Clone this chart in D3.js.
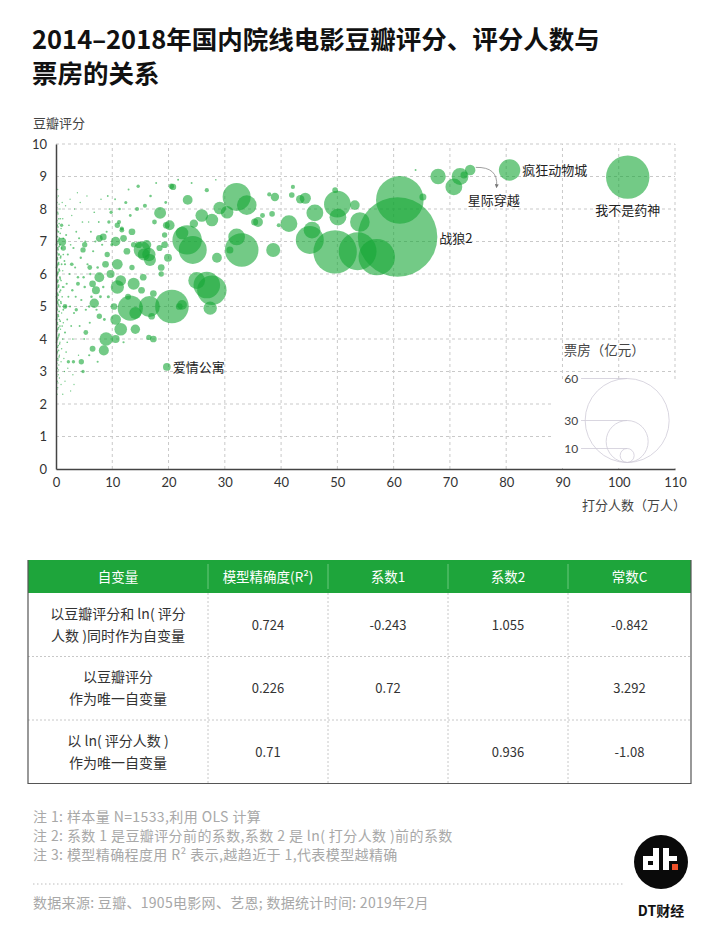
<!DOCTYPE html>
<html><head><meta charset="utf-8">
<script src="https://cdn.jsdelivr.net/npm/d3@7"></script>
<style>
body{margin:0;background:#fff;}
svg{display:block;font-family:"Noto Sans CJK SC","Noto Sans",sans-serif;}
</style>
</head><body>
<svg id="c" width="720" height="930"></svg>
<script>
// ---------------- DATA ----------------
const titleLines = ["2014–2018年国内院线电影豆瓣评分、评分人数与", "票房的关系"];
const yAxisTitle = "豆瓣评分";
const xAxisTitle = "打分人数（万人）";
const xTicks = [0,10,20,30,40,50,60,70,80,90,100,110];
const yTicks = [0,1,2,3,4,5,6,7,8,9,10];
const legendTitle = "票房（亿元）";
const legendValues = [60,30,10];

// labelled films: [name, 打分人数(万), 豆瓣评分, 票房(亿)]
const namedFilms = [
  ["我不是药神",101.6,8.98,31],
  ["疯狂动物城",80.6,9.2,15.3],
  ["战狼2",60.7,7.14,56.8],
  ["星际穿越",73.6,9.2,7.5],
  ["爱情公寓",19.7,3.14,5.5]
];

// larger bubbles: [打分人数(万), 豆瓣评分, 票房(亿)]
const bigFilms = [
  [61.1,8.28,34],[57.0,6.52,26],[53.6,6.7,27],[49.6,6.68,31],[50.0,8.15,19],
  [50.1,7.75,12],[54.0,7.6,14],[53.1,8.12,7],[49.6,8.58,4],[46.0,7.88,12],
  [45.5,7.35,12],[45.1,7.05,20],[41.4,7.55,12],[44.3,8.33,8],[43.4,8.3,6],
  [41.9,8.43,4],[42.1,8.68,3],[38.9,8.37,6],[38.6,6.74,10],[65.2,8.37,5],
  [67.9,9.0,11],[70.7,8.68,12],[71.8,9.0,12],[72.5,9.05,5],[63.9,9.2,1.4],
  [33.0,6.74,24],[32.1,8.37,20],[33.9,8.12,14],[32.1,7.14,12],[30.9,6.74,5],
  [29.1,8.03,9],[27.7,7.66,9],[25.9,7.8,9],[26.8,8.58,3],[28.6,6.5,7],
  [23.3,7.05,21],[24.3,6.74,20],[22.4,7.26,9],[23.4,8.28,7],[20.8,8.68,4.5],
  [26.8,5.66,19],[27.7,5.5,21],[27.4,4.95,9.5],[25.0,5.8,12],[35.9,7.6,7],
  [38.4,7.85,4],[35.3,7.6,5],[36.7,7.8,3.5],[37.9,8.45,3],[39.6,7.5,3],
  [20.6,5.0,24],[16.6,5.0,15],[13.2,4.95,18],[22.4,5.05,7],[18.5,7.88,8.5],
  [20.2,7.5,7],[15.3,6.74,12],[16.7,6.43,8.5],[30.4,7.9,9],[24.5,7.55,6]
];

// medium bubbles: [打分人数(万), 豆瓣评分, 票房(亿)]
const midFilms = [
  [1.1,6.99,5.7],[1.3,6.8,3.8],[1.6,5.0,3.4],[1.0,7.5,2.4],[5.1,6.9,3.8],
  [6.5,5.7,4.8],[7.1,5.5,5.7],[6.8,5.1,6.7],[7.7,4.7,3.8],[6.5,3.7,4.2],
  [4.5,3.3,3.8],[4.8,3.0,2.4],[3.1,3.3,2.4],[3.6,4.9,2.4],[8.5,3.65,7.2],
  [8.9,4.0,9.5],[7.7,5.9,7],[7.7,7.1,4.8],[9.1,6.6,3.8],[8.8,6.3,4.8],
  [9.4,7.6,2.4],[11.2,7.6,2.9],[10.9,7.5,3.8],[10.6,7.0,6.7],[10.9,6.3,7.6],
  [9.7,6.0,5.7],[10.9,5.6,9.5],[11.5,5.8,7.6],[10.3,5.0,4.8],[10.6,4.6,7.6],
  [11.5,4.3,9],[10.6,4.0,5.7],[11.7,7.4,2.9],[12.0,7.1,4.8],[12.6,6.7,4.8],
  [13.8,5.7,8.6],[14.1,4.3,6.7],[14.1,4.8,8.6],[13.5,6.2,3.8],[13.5,7.3,4.8],
  [13.8,6.9,3.8],[14.4,8.0,2.9],[15.8,8.1,2.9],[14.7,6.9,4.8],[15.6,6.6,8.6],
  [16.1,6.9,6.7],[16.5,6.6,9.5],[17.0,4.7,4.8],[17.3,4.0,4.8],[16.5,4.05,3.8],
  [15.5,5.9,4.8],[15.2,5.5,4.8],[17.3,5.4,4.8],[18.7,6.2,4.8],[18.7,6.0,3.8],
  [19.3,7.2,3.8],[19.6,7.5,4.8],[20.5,8.7,3.8],[21.9,5.0,4.8],[19.9,6.5,5.7],
  [19.3,6.9,4.8],[4.8,6.74,3.8],[8.4,7.14,4.8],[11.7,7.35,3.4],[14.6,8.7,2.4],
  [2.2,3.3,2.4],[5.3,4.2,3.4],[9.8,7.9,2.4],[12.4,8.2,2.2],[17.5,7.6,3.4],
  [18.4,6.8,4.4],[6.0,6.2,3.4],[3.9,5.7,2.8],[2.8,6.3,2.6],[12.8,5.3,4.2]
];

// tiny bubbles: [打分人数(万), 豆瓣评分, 票房(亿)]
const tinyFilms = [
  [0.2,2.3,1],[0.3,2.5,1],[0.2,2.7,1.2],[0.4,2.9,1],[0.2,3.1,1.3],[0.5,3.2,1],
  [0.3,3.4,1.2],[0.6,3.5,1],[0.2,3.6,1.5],[0.4,3.8,1.2],[0.7,3.9,1],[0.2,4.0,1.5],
  [0.5,4.1,1.3],[0.3,4.3,1.5],[0.8,4.3,1],[0.2,4.5,1.6],[0.6,4.6,1.2],[0.4,4.7,1.5],
  [1.0,4.8,1],[0.2,4.9,1.6],[0.7,5.0,1.3],[0.3,5.1,1.5],[0.5,5.2,1.6],[1.1,5.3,1.2],
  [0.2,5.4,1.7],[0.8,5.5,1.3],[0.4,5.6,1.6],[0.3,5.8,1.7],[0.9,5.8,1.2],[0.2,6.0,1.7],
  [0.6,6.1,1.5],[1.2,6.1,1],[0.4,6.3,1.7],[0.2,6.5,1.6],[0.8,6.5,1.4],[0.5,6.6,1.7],
  [0.3,6.8,1.6],[1.0,6.8,1.2],[0.2,7.0,1.5],[0.6,7.1,1.4],[0.4,7.3,1.5],[0.9,7.4,1.1],
  [0.2,7.5,1.4],[0.5,7.7,1.2],[0.3,7.9,1.1],[0.7,8.0,1],[0.2,8.2,1],[0.4,8.4,1],
  [0.3,8.6,0.9],[0.1,3.0,1.1],[0.1,3.9,1.3],[0.1,4.6,1.4],[0.1,5.3,1.5],[0.1,6.2,1.5],
  [0.1,6.9,1.4],[0.1,7.6,1.2],[0.6,2.8,0.9],[0.9,3.3,1],[0.7,4.4,1.2],[1.3,4.5,1.1],
  [0.9,5.1,1.3],[1.4,5.6,1.2],[0.7,5.9,1.4],[1.5,6.4,1.3],[0.7,6.9,1.3],[1.3,7.1,1.2],
  [0.8,7.7,1.1],[1.1,8.2,1],[1.5,3.0,1],[1.8,3.6,1.2],[1.6,4.2,1.5],[2.0,4.6,1.3],
  [1.7,5.0,1.6],[2.2,5.3,1.4],[1.9,5.7,1.6],[2.4,6.0,1.3],[1.6,6.3,1.6],[2.1,6.6,1.5],
  [2.6,6.9,1.2],[1.8,7.2,1.4],[2.3,7.5,1.2],[2.8,7.8,1],[1.7,8.1,1],[2.5,8.3,0.9],
  [3.0,4.0,1.2],[3.2,4.8,1.5],[2.9,5.5,1.7],[3.4,6.2,1.5],[3.1,6.8,1.6],[3.6,7.3,1.3],
  [3.3,8.0,1],[3.8,8.5,0.9],[4.0,3.5,1],[4.2,4.4,1.4],[4.5,5.2,1.6],[3.9,5.9,1.8],
  [4.4,6.5,1.7],[4.1,7.1,1.5],[4.7,7.6,1.2],[4.3,8.2,1],[5.0,4.0,1.3],[5.3,4.9,1.6],
  [5.1,5.6,1.8],[5.6,6.3,1.6],[5.2,7.0,1.4],[5.8,7.6,1.1],[5.5,8.4,1],[6.0,4.5,1.5],
  [6.3,5.3,1.8],[6.1,6.0,1.7],[6.6,6.7,1.6],[6.2,7.3,1.4],[6.8,7.9,1.2],[7.2,4.9,1.6],
  [7.4,6.2,1.8],[7.0,7.0,1.5],[7.6,7.6,1.3],[8.0,8.3,1.1],[8.4,5.6,1.7],[8.2,6.9,1.6],
  [9.0,7.3,1.5],[9.5,8.0,1.2],[10.5,8.3,1.3],[3.0,2.9,1],[2.6,2.4,0.9],[1.2,2.3,1],
  [2.0,3.9,1.2],[2.7,4.4,1.3],[3.5,5.3,1.5],[2.5,5.0,1.4],[4.9,5.9,1.7],[5.9,5.0,1.7],
  [7.9,5.3,2],[8.6,4.6,2],[9.3,5.3,2.2],[9.9,6.9,2],[9.2,8.4,1.3],[12.9,8.6,1.4],
  [13.2,7.8,2],[11.3,8.0,1.8],[16.8,8.4,1.8],[17.8,8.8,1.4],[19.5,8.2,2],[21.7,8.9,1.4],
  [24.1,8.8,1.4],[28.4,8.9,1.2],[5.9,3.5,1.6],[7.4,3.3,1.5],[12.0,3.9,1.6],[3.2,2.6,0.9],
  [0.15,2.45,0.9],[0.35,2.65,0.9],[0.15,2.85,1],[0.45,3.05,1],[0.15,3.25,1.1],[0.35,3.35,1.1],
  [0.55,3.45,1.1],[0.15,3.55,1.2],[0.45,3.65,1.2],[0.25,3.75,1.3],[0.65,3.85,1.1],[0.15,3.95,1.3],
  [0.35,4.05,1.3],[0.55,4.15,1.2],[0.15,4.25,1.4],[0.45,4.35,1.3],[0.25,4.45,1.4],[0.75,4.55,1.2],
  [0.15,4.65,1.4],[0.35,4.75,1.4],[0.55,4.85,1.3],[0.15,4.95,1.5],[0.45,5.05,1.4],[0.25,5.15,1.5],
  [0.85,5.15,1.2],[0.15,5.25,1.5],[0.35,5.35,1.5],[0.65,5.45,1.3],[0.15,5.55,1.5],[0.45,5.65,1.5],
  [0.25,5.75,1.5],[0.75,5.85,1.3],[0.15,5.95,1.5],[0.35,6.05,1.5],[0.55,6.15,1.4],[0.15,6.25,1.5],
  [0.45,6.35,1.4],[0.25,6.45,1.5],[0.85,6.55,1.2],[0.15,6.65,1.4],[0.35,6.75,1.4],[0.55,6.85,1.3],
  [0.15,6.95,1.4],[0.45,7.05,1.3],[0.25,7.15,1.3],[0.75,7.25,1.1],[0.15,7.35,1.3],[0.35,7.45,1.2],
  [0.55,7.55,1.1],[0.15,7.65,1.2],[0.35,7.85,1.1],[0.15,8.05,1],[0.55,8.15,0.9],[0.15,8.35,0.9],
  [1.0,3.7,1.1],[1.2,4.0,1.2],[1.1,4.4,1.2],[1.3,4.9,1.3],[1.2,5.6,1.3],[1.0,6.3,1.3],
  [1.3,6.6,1.2],[1.2,7.7,1.1],[1.4,3.4,1],[0.9,2.6,0.9],[1.6,2.7,0.9],[2.1,3.1,1]
];

// regression table
const tableHeader = ["自变量","模型精确度(R²)","系数1","系数2","常数C"];
const tableVars = [
  ["以豆瓣评分和 ln( 评分","人数 )同时作为自变量"],
  ["以豆瓣评分","作为唯一自变量"],
  ["以 ln( 评分人数 )","作为唯一自变量"]
];
const tableR2 = ["0.724","0.226","0.71"];
const tableCoef1 = ["-0.243","0.72",""];
const tableCoef2 = ["1.055","","0.936"];
const tableConst = ["-0.842","3.292","-1.08"];

const notes = [
  "注 1:  样本量 N=1533,利用 OLS 计算",
  "注 2:  系数 1 是豆瓣评分前的系数,系数 2 是 ln( 打分人数 )前的系数",
  "注 3:  模型精确程度用 R² 表示,越趋近于 1,代表模型越精确"
];
const sourceText = "数据来源: 豆瓣、1905电影网、艺恩; 数据统计时间: 2019年2月";
const brandText = "DT财经";

// ---------------- DRAW ----------------
const svg = d3.select("#c");
const green = "#16a636";

svg.selectAll("text.title").data(titleLines).join("text")
  .attr("x",32).attr("y",(d,i)=>49+i*34)
  .attr("font-size",25.5).attr("font-weight",700).attr("fill","#111")
  .text(d=>d);

const x = d3.scaleLinear().domain([0,110]).range([56,675]);
const y = d3.scaleLinear().domain([0,10]).range([469,144]);
const r = d3.scaleLinear().domain([0,60]).range([0,42]);

// grid
const grid = svg.append("g");
grid.selectAll("line.h").data(yTicks.filter(d=>d>0)).join("line")
  .attr("x1",x(0)).attr("x2",x(110)).attr("y1",d=>y(d)).attr("y2",d=>y(d))
  .attr("stroke","#c9c9c9").attr("stroke-dasharray","3,3");
grid.selectAll("line.v").data(xTicks.filter(d=>d>0)).join("line")
  .attr("y1",y(0)).attr("y2",y(10)).attr("x1",d=>x(d)).attr("x2",d=>x(d))
  .attr("stroke","#c9c9c9").attr("stroke-dasharray","3,3");

// legend background (covers grid)
svg.append("rect").attr("x",x(88.5)).attr("y",y(2.7)).attr("width",x(110)-x(88.5)+1)
  .attr("height",y(0)-y(2.7)-1).attr("fill","#fff");

// bubbles
const all = [].concat(
  bigFilms, midFilms, tinyFilms,
  namedFilms.map(d=>[d[1],d[2],d[3]])
).sort((a,b)=>b[2]-a[2]);
svg.append("g").selectAll("circle").data(all).join("circle")
  .attr("cx",d=>x(d[0])).attr("cy",d=>y(d[1])).attr("r",d=>Math.max(0.6,r(d[2])))
  .attr("fill",green).attr("fill-opacity",0.6);

// axes
const xAxis = d3.axisBottom(x).tickValues(xTicks).tickSize(0).tickPadding(9);
const gx = svg.append("g").attr("transform",`translate(0,${y(0)})`).call(xAxis);
gx.select(".domain").attr("stroke","#444").attr("stroke-width",1.5);
gx.selectAll("text").attr("font-size",13).attr("fill","#333").attr("font-family","Lato, 'Noto Sans', sans-serif");
const yAxis = d3.axisLeft(y).tickValues(yTicks).tickSize(0).tickPadding(9);
const gy = svg.append("g").attr("transform",`translate(${x(0)},0)`).call(yAxis);
gy.select(".domain").attr("stroke","#444").attr("stroke-width",1.5);
gy.selectAll("text").attr("font-size",13).attr("fill","#333").attr("font-family","Lato, 'Noto Sans', sans-serif");

svg.append("text").attr("x",33).attr("y",128).attr("font-size",13).attr("fill","#444").text(yAxisTitle);
svg.append("text").attr("x",686).attr("y",510).attr("text-anchor","end").attr("font-size",13).attr("fill","#444").text(xAxisTitle);

// legend
const lcx = x(101.5), lby = y(0.2);
const lg = svg.append("g");
lg.append("text").attr("x",lcx-23).attr("y",y(3.5)).attr("text-anchor","middle").attr("font-size",13.5).attr("fill","#444").text(legendTitle);
legendValues.forEach(v=>{
  lg.append("circle").attr("cx",lcx).attr("cy",lby-r(v)).attr("r",r(v))
    .attr("fill","none").attr("stroke","#cfcbd8").attr("stroke-width",0.8);
  lg.append("line").attr("x1",x(93.3)).attr("x2",lcx).attr("y1",lby-2*r(v)).attr("y2",lby-2*r(v))
    .attr("stroke","#cfcbd8").attr("stroke-width",0.8);
  lg.append("text").attr("x",x(92.8)).attr("y",lby-2*r(v)+4.5).attr("text-anchor","end")
    .attr("font-size",12).attr("fill","#444").attr("font-family","Lato, 'Noto Sans', sans-serif").text(v);
});

// annotations
const ann = svg.append("g").attr("font-size",13).attr("fill","#222");
const f = n => namedFilms.find(d=>d[0]===n);
let d0 = f("我不是药神");
ann.append("text").attr("x",x(d0[1])).attr("y",y(d0[2])+r(d0[3])+16).attr("text-anchor","middle").text(d0[0]);
d0 = f("疯狂动物城");
ann.append("text").attr("x",x(d0[1])+r(d0[3])+2).attr("y",y(d0[2])+5).text(d0[0]);
d0 = f("战狼2");
ann.append("text").attr("x",x(d0[1])+r(d0[3])+2).attr("y",y(d0[2])+6).text(d0[0]);
d0 = f("爱情公寓");
ann.append("text").attr("x",x(d0[1])+r(d0[3])+2).attr("y",y(d0[2])+5).text(d0[0]);
d0 = f("星际穿越");
ann.append("text").attr("x",x(77.8)).attr("y",y(8.12)).attr("text-anchor","middle").text(d0[0]);
svg.append("defs").append("marker").attr("id","ah").attr("viewBox","0 0 6 6").attr("refX",3).attr("refY",3)
  .attr("markerWidth",5).attr("markerHeight",5).attr("orient","auto")
  .append("path").attr("d","M0,0L6,3L0,6Z").attr("fill","#777");
const p = d3.path();
p.moveTo(x(74.6), y(9.28));
p.quadraticCurveTo(x(78.6), y(9.3), x(78.3), y(8.7));
svg.append("path").attr("d",p.toString()).attr("fill","none").attr("stroke","#888").attr("stroke-width",0.8).attr("marker-end","url(#ah)");

// ---------------- TABLE ----------------
const colEdges = [28,208,328,448,568,691];
const tTop = 560, hH = 33, rowH = 63.5;
const tb = svg.append("g");
tb.append("rect").attr("x",colEdges[0]).attr("y",tTop).attr("width",colEdges[5]-colEdges[0]).attr("height",hH).attr("fill","#1ea53b");
tb.selectAll("text.h").data(tableHeader).join("text")
  .attr("x",(d,i)=>(colEdges[i]+colEdges[i+1])/2).attr("y",tTop+hH/2+5)
  .attr("text-anchor","middle").attr("font-size",13.5).attr("fill","#fff").text(d=>d);
tb.selectAll("line.hs").data(colEdges.slice(1,5)).join("line")
  .attr("x1",d=>d).attr("x2",d=>d).attr("y1",tTop+4).attr("y2",tTop+hH-4)
  .attr("stroke","#7fd08f").attr("stroke-width",0.8);
const bodyTop = tTop+hH, bodyBot = bodyTop+3*rowH;
tb.selectAll("line.vs").data(colEdges.slice(1,5)).join("line")
  .attr("x1",d=>d).attr("x2",d=>d).attr("y1",bodyTop).attr("y2",bodyBot)
  .attr("stroke","#c8c8c8").attr("stroke-dasharray","2,2");
tb.selectAll("line.rs").data([1,2]).join("line")
  .attr("x1",colEdges[0]).attr("x2",colEdges[5]).attr("y1",d=>bodyTop+d*rowH).attr("y2",d=>bodyTop+d*rowH)
  .attr("stroke","#c8c8c8").attr("stroke-dasharray","2,2");
tb.append("path").attr("d",`M${colEdges[0]},${tTop}V${bodyBot}H${colEdges[5]}V${tTop}`)
  .attr("fill","none").attr("stroke","#555").attr("stroke-width",1.2);
tableVars.forEach((lines,i)=>{
  const cy = bodyTop+i*rowH+rowH/2;
  lines.forEach((t,j)=>{
    tb.append("text").attr("x",(colEdges[0]+colEdges[1])/2).attr("y",cy+(j-0.5)*22+5)
      .attr("text-anchor","middle").attr("font-size",14).attr("fill","#333").text(t);
  });
  [tableR2,tableCoef1,tableCoef2,tableConst].forEach((col,k)=>{
    tb.append("text").attr("x",(colEdges[k+1]+colEdges[k+2])/2).attr("y",cy+5)
      .attr("text-anchor","middle").attr("font-size",13).attr("fill","#333").text(col[i]);
  });
});

// ---------------- NOTES ----------------
svg.selectAll("text.note").data(notes).join("text")
  .attr("x",33).attr("y",(d,i)=>822+i*19).attr("font-size",14).attr("letter-spacing",0.4)
  .attr("fill","#a8a8a8").text(d=>d);
svg.append("line").attr("x1",33).attr("x2",625).attr("y1",884).attr("y2",884)
  .attr("stroke","#bdbdbd").attr("stroke-dasharray","1.5,2.5");
svg.append("text").attr("x",33).attr("y",908).attr("font-size",14).attr("letter-spacing",0.3)
  .attr("fill","#a8a8a8").text(sourceText);

// logo
const lgx = 661, lgy = 862;
const logo = svg.append("g");
logo.append("circle").attr("cx",lgx).attr("cy",lgy).attr("r",27).attr("fill","#0a0a0a");
// d
logo.append("rect").attr("x",lgx-18).attr("y",lgy-6).attr("width",16).attr("height",14).attr("fill","#fff");
logo.append("rect").attr("x",lgx-8).attr("y",lgy-14).attr("width",6).attr("height",8).attr("fill","#fff");
logo.append("rect").attr("x",lgx-13).attr("y",lgy-1).attr("width",5).attr("height",4).attr("fill","#0a0a0a");
// t
logo.append("rect").attr("x",lgx+2).attr("y",lgy-14).attr("width",6).attr("height",22).attr("fill","#fff");
logo.append("rect").attr("x",lgx+2).attr("y",lgy-6).attr("width",14).attr("height",5).attr("fill","#fff");
logo.append("rect").attr("x",lgx+11).attr("y",lgy+2).attr("width",6).attr("height",6).attr("fill","#f0512a");
svg.append("text").attr("x",lgx).attr("y",916).attr("text-anchor","middle").attr("font-size",14).attr("font-weight",700).attr("fill","#111").text(brandText);
</script>
</body></html>
